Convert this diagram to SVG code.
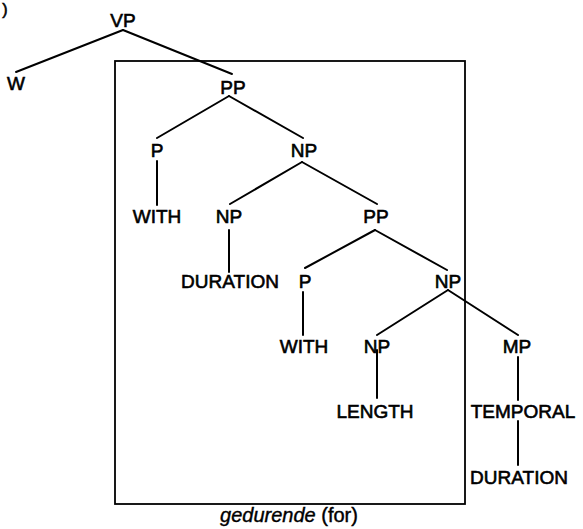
<svg xmlns="http://www.w3.org/2000/svg" width="583" height="529" viewBox="0 0 583 529">
<style>
text{font-family:"Liberation Sans",Arial,sans-serif;font-size:19px;fill:#000;stroke:#000;stroke-width:0.6;text-anchor:middle}
.e line{stroke:#000;stroke-width:2;stroke-linecap:round}
.cap{font-size:20px;stroke-width:0.4}
</style>
<rect width="583" height="529" fill="#fff"/>
<text x="5" y="15" style="font-size:16px">)</text>
<rect id="box" x="115" y="61" width="350" height="443" fill="none" stroke="#000" stroke-width="1.8"/>
<g class="e" id="connectors">
<line x1="123" y1="30" x2="16" y2="72"/>
<line x1="123" y1="30" x2="232" y2="74"/>
<line x1="229" y1="96" x2="157" y2="138"/>
<line x1="229" y1="96" x2="303" y2="138"/>
<line x1="157" y1="161" x2="157" y2="205"/>
<line x1="302" y1="162" x2="230" y2="204"/>
<line x1="302" y1="162" x2="377" y2="204"/>
<line x1="229" y1="230" x2="229" y2="272"/>
<line x1="375" y1="230" x2="305" y2="268"/>
<line x1="375" y1="230" x2="447" y2="270"/>
<line x1="303" y1="292" x2="303" y2="335"/>
<line x1="448" y1="290" x2="377" y2="335"/>
<line x1="448" y1="290" x2="518" y2="335"/>
<line x1="377" y1="350" x2="377" y2="398"/>
<line x1="518" y1="357" x2="518" y2="400"/>
<line x1="518" y1="421" x2="518" y2="465"/>
</g>
<g id="VP"><text x="123" y="27">VP</text></g>
<g id="W"><text x="16" y="90">W</text></g>
<g id="PP1"><text x="233" y="94">PP</text></g>
<g id="P1"><text x="157" y="157">P</text></g>
<g id="NP1"><text x="304" y="157">NP</text></g>
<g id="WITH1"><text x="157" y="223">WITH</text></g>
<g id="NP2"><text x="229" y="223">NP</text></g>
<g id="PP2"><text x="376" y="223">PP</text></g>
<g id="DURATION1"><text x="230" y="288">DURATION</text></g>
<g id="P2"><text x="305" y="288">P</text></g>
<g id="NP3"><text x="448" y="288">NP</text></g>
<g id="WITH2"><text x="304" y="353">WITH</text></g>
<g id="NP4"><text x="377" y="353">NP</text></g>
<g id="MP"><text x="517" y="353">MP</text></g>
<g id="LENGTH"><text x="375" y="418">LENGTH</text></g>
<g id="TEMPORAL"><text x="523" y="418">TEMPORAL</text></g>
<g id="DURATION2"><text x="519" y="484">DURATION</text></g>
<g id="caption"><text class="cap" x="289" y="522"><tspan font-style="italic">gedurende</tspan> (for)</text></g>
</svg>
